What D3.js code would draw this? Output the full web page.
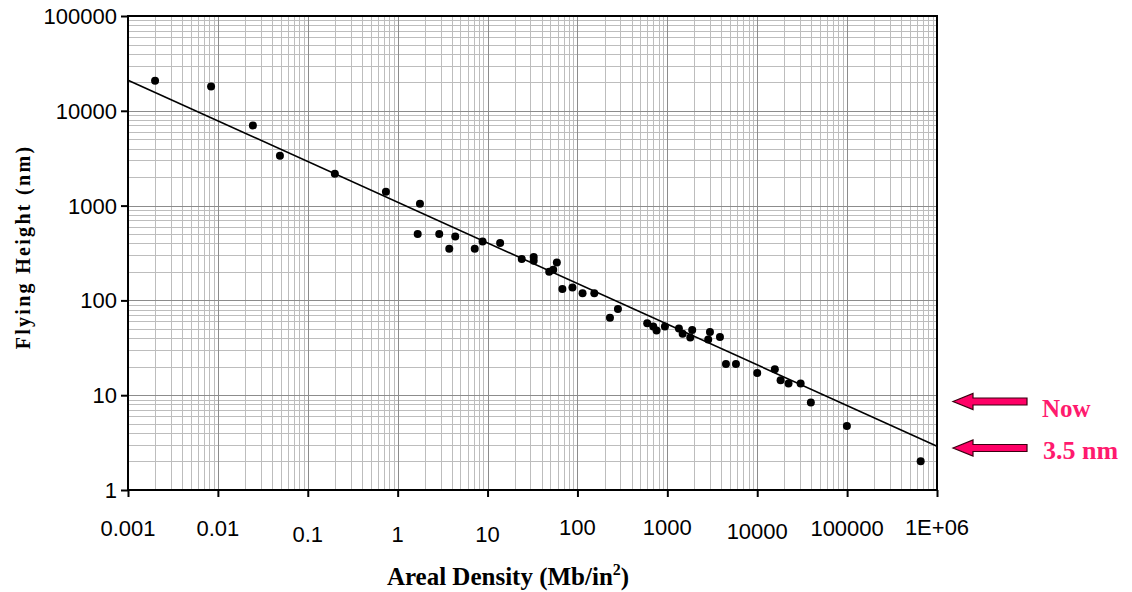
<!DOCTYPE html>
<html>
<head>
<meta charset="utf-8">
<script src="https://cdn.jsdelivr.net/npm/d3@7"></script>
<style>
  body { margin: 0; background: #fff; }
  svg { display: block; }
</style>
</head>
<body>
<script>
// areal density (Mb/in2) vs flying height (nm)
var density = [0.002, 0.0084, 0.0245, 0.049, 0.2, 0.74, 1.77, 1.67, 2.9, 3.75, 4.37, 7.2, 8.8,
  13.8, 24, 32.6, 32.6, 48.5, 53.8, 59, 68, 88, 114, 154, 230, 282, 597, 697, 759, 940,
  1345, 1480, 1800, 1890, 2850, 2980, 3850, 4490, 5800, 10000, 15700, 18200, 22300,
  30400, 39500, 99400, 658000];
var height = [20800, 18000, 7000, 3360, 2170, 1400, 1047, 501, 501, 351, 473, 351, 419,
  403, 273, 287, 262, 200, 210, 251, 132, 137, 119, 119, 65.5, 81, 57.5, 53, 48.1, 53,
  50.5, 44.4, 40.6, 48.6, 38.7, 46.3, 41, 21.3, 21.3, 17.1, 18.8, 14.4, 13.3,
  13.3, 8.35, 4.74, 2.01];

// trend line end points
var fitX = [0.001, 1000000];
var fitY = [21000, 2.9];

var xTicks = [0.001, 0.01, 0.1, 1, 10, 100, 1000, 10000, 100000, 1000000];
var xTickLabels = ["0.001", "0.01", "0.1", "1", "10", "100", "1000", "10000", "100000", "1E+06"];
var xLabelShift = [0, 0, 6, 6, 6, -1, -1, 3, 0, -1];
var yTicks = [1, 10, 100, 1000, 10000, 100000];
var yTickLabels = ["1", "10", "100", "1000", "10000", "100000"];

var notes = ["Now", "3.5 nm"];

var W = 1132, H = 592;
var pL = 128, pT = 16, pR = 937, pB = 490;

var svg = d3.select("body").append("svg").attr("width", W).attr("height", H);

var x = d3.scaleLog().domain([0.001, 1000000]).range([pL, pR]);
var y = d3.scaleLog().domain([1, 100000]).range([pB, pT]);

// grid
var minorX = [], minorY = [];
for (var e = -3; e < 6; e++) for (var m = 2; m < 10; m++) minorX.push(m * Math.pow(10, e));
for (var e = 0; e < 5; e++) for (var m = 2; m < 10; m++) minorY.push(m * Math.pow(10, e));

var grid = svg.append("g");
grid.selectAll(".mx").data(minorX).enter().append("line")
  .attr("x1", function(d){ return Math.round(x(d)) + 0.5; })
  .attr("x2", function(d){ return Math.round(x(d)) + 0.5; })
  .attr("y1", pT).attr("y2", pB)
  .attr("stroke", "#bdbdbd").attr("stroke-width", 1);
grid.selectAll(".my").data(minorY).enter().append("line")
  .attr("y1", function(d){ return Math.round(y(d)) + 0.5; })
  .attr("y2", function(d){ return Math.round(y(d)) + 0.5; })
  .attr("x1", pL).attr("x2", pR)
  .attr("stroke", "#bdbdbd").attr("stroke-width", 1);
grid.selectAll(".Mx").data(xTicks).enter().append("line")
  .attr("x1", function(d){ return Math.round(x(d)) + 0.5; })
  .attr("x2", function(d){ return Math.round(x(d)) + 0.5; })
  .attr("y1", pT).attr("y2", pB)
  .attr("stroke", "#8c8c8c").attr("stroke-width", 1);
grid.selectAll(".My").data(yTicks).enter().append("line")
  .attr("y1", function(d){ return Math.round(y(d)) + 0.5; })
  .attr("y2", function(d){ return Math.round(y(d)) + 0.5; })
  .attr("x1", pL).attr("x2", pR)
  .attr("stroke", "#8c8c8c").attr("stroke-width", 1);

// frame
svg.append("rect").attr("x", pL).attr("y", pT)
  .attr("width", pR - pL).attr("height", pB - pT)
  .attr("fill", "none").attr("stroke", "#000").attr("stroke-width", 2);

// axes
var xAxis = d3.axisBottom(x).tickValues(xTicks).tickSize(7).tickFormat("");
var gx = svg.append("g").attr("transform", "translate(0," + pB + ")").call(xAxis);
gx.select(".domain").remove();
gx.selectAll("line").attr("stroke", "#000").attr("stroke-width", 2);

var yAxis = d3.axisLeft(y).tickValues(yTicks).tickSize(7).tickFormat("");
var gy = svg.append("g").attr("transform", "translate(" + pL + ",0)").call(yAxis);
gy.select(".domain").remove();
gy.selectAll("line").attr("stroke", "#000").attr("stroke-width", 2);

svg.selectAll(".xl").data(xTicks).enter().append("text")
  .attr("x", function(d){ return x(d); })
  .attr("y", function(d, i){ return 536 + xLabelShift[i]; })
  .attr("text-anchor", "middle")
  .attr("font-family", "Liberation Sans, Arial, sans-serif").attr("font-size", 22)
  .text(function(d, i){ return xTickLabels[i]; });

svg.selectAll(".yl").data(yTicks).enter().append("text")
  .attr("x", 117)
  .attr("y", function(d){ return y(d) + 8; })
  .attr("text-anchor", "end")
  .attr("font-family", "Liberation Sans, Arial, sans-serif").attr("font-size", 22)
  .text(function(d, i){ return yTickLabels[i]; });

// titles
var xt = svg.append("text").attr("x", 508).attr("y", 585).attr("text-anchor", "middle")
  .attr("font-family", "Liberation Serif, Times New Roman, serif")
  .attr("font-weight", "bold").attr("font-size", 25);
xt.append("tspan").text("Areal Density (Mb/in");
xt.append("tspan").attr("dy", -10).attr("font-size", 16).text("2");
xt.append("tspan").attr("dy", 10).text(")");

svg.append("text").attr("transform", "translate(30,247) rotate(-90)")
  .attr("text-anchor", "middle")
  .attr("font-family", "Liberation Serif, Times New Roman, serif")
  .attr("font-weight", "bold").attr("font-size", 20).attr("letter-spacing", 2.3)
  .text("Flying Height (nm)");

// fit line
var line = d3.line().x(function(d){ return x(d[0]); }).y(function(d){ return y(d[1]); });
svg.append("path").datum(d3.zip(fitX, fitY)).attr("d", line)
  .attr("fill", "none").attr("stroke", "#000").attr("stroke-width", 1.6);

// points
svg.selectAll(".pt").data(d3.zip(density, height)).enter().append("circle")
  .attr("cx", function(d){ return x(d[0]); })
  .attr("cy", function(d){ return y(d[1]); })
  .attr("r", 4).attr("fill", "#000");

// arrows + notes
var arrow = "M0,0 L20,-8 L20,-3.5 L74,-3.5 L74,3.5 L20,3.5 L20,8 Z";
notes.forEach(function(t, i) {
  var ay = i == 0 ? 401.5 : 448;
  svg.append("path").attr("d", arrow)
    .attr("transform", "translate(953," + ay + ")")
    .attr("fill", "#ff0066").attr("stroke", "#3a0010").attr("stroke-width", 1.2);
  svg.append("text").attr("x", i == 0 ? 1042 : 1043).attr("y", i == 0 ? 417 : 459)
    .attr("font-family", "Liberation Serif, Times New Roman, serif")
    .attr("font-weight", "bold").attr("font-size", i == 0 ? 25 : 26)
    .attr("fill", "#ff1a6e").text(t);
});
</script>
</body>
</html>
